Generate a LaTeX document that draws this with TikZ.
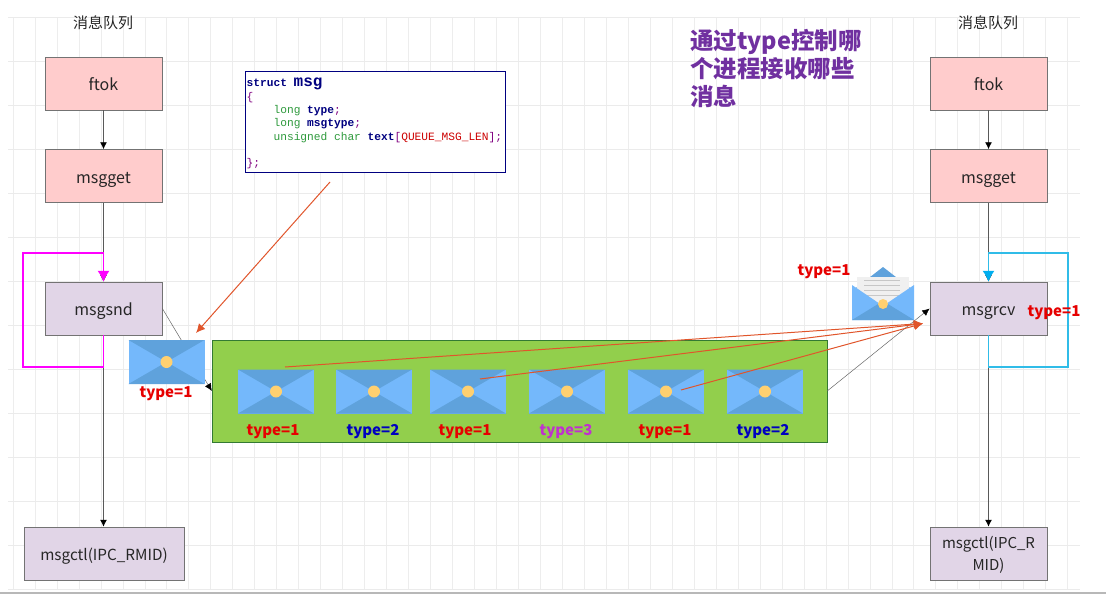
\documentclass[tikz,border=0pt]{standalone}
\usepackage{fontspec}
\setmainfont{Noto Sans CJK SC}
\setmonofont{Liberation Mono}
\usetikzlibrary{arrows.meta}

\definecolor{pinkbox}{HTML}{FFCCCC}
\definecolor{lilacbox}{HTML}{E1D5E7}
\definecolor{mailblue}{HTML}{74B8FB}
\definecolor{maildark}{HTML}{5FA2DC}
\definecolor{mailseal}{HTML}{FFD070}
\definecolor{greenbox}{HTML}{92CF4C}
\definecolor{readarrow}{HTML}{E0552B}
\definecolor{notepurple}{HTML}{7030A0}
\definecolor{codegreen}{HTML}{2E9A3C}
\definecolor{codenavy}{HTML}{000080}
\definecolor{loopmagenta}{HTML}{FF00FF}
\definecolor{loopcyan}{HTML}{30BCE8}
\definecolor{tipcyan}{HTML}{00AEEF}
\definecolor{typered}{HTML}{E60000}
\definecolor{typeblue}{HTML}{0000C0}
\definecolor{typepurple}{HTML}{C030D0}

\tikzset{
  funcbox/.style={rectangle, draw=black!55, line width=0.7pt, minimum width=117pt, minimum height=53pt, inner sep=0pt, align=center, font=\fontsize{16}{20}\selectfont, text=black!85},
  oneline/.style={text height=14.5pt, text depth=0.5pt},
  flow/.style={draw=black!65, line width=0.7pt, -{Latex[length=2.4mm, width=2.4mm, black]}},
  thin flow/.style={draw=black!60, line width=0.5pt, -{Latex[length=2.6mm, width=2.4mm, black]}},
  read/.style={draw=readarrow, line width=1pt, -{Latex[length=3.2mm, width=3mm]}},
  mail/.style={rectangle, fill=mailblue, minimum width=76pt, minimum height=44pt, inner sep=0pt,
    path picture={
      \fill[maildark] (path picture bounding box.north west) -- (path picture bounding box.center) -- (path picture bounding box.north east) -- cycle;
      \fill[maildark] (path picture bounding box.south west) -- (path picture bounding box.center) -- (path picture bounding box.south east) -- cycle;
      \fill[mailseal] (path picture bounding box.center) circle (6pt);
    }},
  typelabel/.style={font=\fontsize{15}{18}\selectfont\bfseries, inner sep=0pt}
}

\begin{document}
\begin{tikzpicture}[x=1pt, y=-1pt]
\useasboundingbox (0,0) rectangle (1106,594);

%Grid
\foreach \gx in {0,...,48} {
  \draw[black!7, line width=0.6pt] ({13+21.97*\gx},17) -- ({13+21.97*\gx},590);
}
\foreach \gy in {0,...,13} {
  \draw[black!8, line width=0.8pt] (8,{17+44*\gy}) -- (1080,{17+44*\gy});
}
\fill[black!28] (0,592) rectangle (1106,594);

%Titles
\node (titleL) at (103,22.5) [font=\fontsize{15}{18}\selectfont, text=black!85] {消息队列};
\node (titleR) at (988,22.5) [font=\fontsize{15}{18}\selectfont, text=black!85] {消息队列};
\node (note) at (690,68) [anchor=west, align=left, inner sep=0pt, text=notepurple, font=\fontsize{23.5}{28}\selectfont\bfseries] {通过type控制哪\\个进程接收哪些\\消息};

%Left column
\node (ftokL) at (103.5,83.5) [funcbox, oneline, fill=pinkbox] {ftok};
\node (getL) at (103.5,176) [funcbox, oneline, fill=pinkbox] {msgget};
\node (sndL) at (103.5,308.5) [funcbox, oneline, fill=lilacbox] {msgsnd};
\node (ctlL) at (104,553.5) [funcbox, oneline, fill=lilacbox, minimum width=160pt, font=\fontsize{15.3}{18}\selectfont] {msgctl(IPC\_RMID)};

%Right column
\node (ftokR) at (988.5,83.5) [funcbox, oneline, fill=pinkbox] {ftok};
\node (getR) at (988.5,176) [funcbox, oneline, fill=pinkbox] {msgget};
\node (rcvR) at (988.5,308.5) [funcbox, oneline, fill=lilacbox] {msgrcv};
\node (ctlR) at (988.5,553.5) [funcbox, text height=37pt, fill=lilacbox, font=\fontsize{15}{22}\selectfont] {msgctl(IPC\_R\\MID)};

\draw[flow] (ftokL) to (getL);
\draw[flow] (getL) to (sndL);
\draw[flow] (sndL) to (ctlL.north -| sndL);
\draw[flow] (ftokR) to (getR);
\draw[flow] (getR) to (rcvR);
\draw[flow] (rcvR) to (ctlR);

%Loops
\coordinate (sndA) at (103.5,367);
\coordinate (sndB) at (23,367);
\coordinate (sndC) at (23,253);
\coordinate (sndD) at (103.5,253);
\draw[loopmagenta, line width=1.1pt, -{Latex[length=3.8mm, width=4.2mm]}] (sndL.south) -- (sndA) -- (sndB) -- (sndC) -- (sndD) -- (sndL.north);

\coordinate (rcvA) at (988.5,367);
\coordinate (rcvB) at (1068,367);
\coordinate (rcvC) at (1068,253);
\coordinate (rcvD) at (988.5,253);
\draw[loopcyan, line width=1.1pt, -{Latex[length=3.8mm, width=4.2mm, tipcyan]}] (rcvR.south) -- (rcvA) -- (rcvB) -- (rcvC) -- (rcvD) -- (rcvR.north);

%Queue
\node (queue) at (519.5,391) [rectangle, draw=green!35!black!80, fill=greenbox, minimum width=615pt, minimum height=102pt, inner sep=0pt] {};
\draw[thin flow] (sndL.east) to (queue.west);
\draw[thin flow] (queue.east) to (rcvR.west);

\node (sent) at (166.5,362) [mail] {};
\node (m1) at (276,391.5) [mail] {};
\node (m2) at (374,391.5) [mail] {};
\node (m3) at (468,391.5) [mail] {};
\node (m4) at (567,391.5) [mail] {};
\node (m5) at (666,391.5) [mail] {};
\node (m6) at (765,391.5) [mail] {};

\node (tsent) at (166,394) [typelabel, text=typered] {type=1};
\node (t1) at (273,431.5) [typelabel, text=typered] {type=1};
\node (t2) at (373,431.5) [typelabel, text=typeblue] {type=2};
\node (t3) at (465,431.5) [typelabel, text=typered] {type=1};
\node (t4) at (566,431.5) [typelabel, text=typepurple] {type=3};
\node (t5) at (665,431.5) [typelabel, text=typered] {type=1};
\node (t6) at (763,431.5) [typelabel, text=typeblue] {type=2};

%Open mail
\fill[maildark] (852,291) -- (883,267) -- (914,291) -- cycle;
\fill[black!6] (857,277) -- (909,277) -- (909,305) -- (857,305) -- cycle;
\foreach \ly in {280,285,290,295} {
  \draw[black!22, line width=0.6pt] (864,\ly) -- (900,\ly);
}
\fill[mailblue] (852,285) -- (883,306) -- (914,285) -- (914,320) -- (852,320) -- cycle;
\fill[maildark] (852,320) -- (883,301) -- (914,320) -- cycle;
\fill[mailseal] (883,304) circle (5pt);
\node (topen) at (824,272) [typelabel, text=typered] {type=1};
\node (trcv) at (1054,313) [typelabel, text=typered] {type=1};

%Read arrows
\coordinate (read1) at (285,367);
\coordinate (read2) at (480,379);
\coordinate (read3) at (681,390);
\coordinate (readEnd) at (923,323.5);
\draw[read] (read1) to (readEnd);
\draw[read] (read2) to (readEnd);
\draw[read] (read3) to (readEnd);

%Struct
\node (code) at (375,121.5) [rectangle, draw=codenavy, fill=white, line width=0.8pt, minimum width=260pt, minimum height=101pt, inner sep=0pt] {};
\node (codetxt) at (246.5,78) [anchor=north west, inner sep=0pt, align=left, font=\ttfamily\fontsize{11.2}{13.3}\selectfont] {%
\textcolor{codenavy}{\textbf{struct} {\fontsize{16}{15}\selectfont\textbf{msg}}}\\
\textcolor{violet}{\{}\\
\hspace*{26.9pt}\textcolor{codegreen}{long} \textcolor{codenavy}{\textbf{type}}\textcolor{violet}{;}\\
\hspace*{26.9pt}\textcolor{codegreen}{long} \textcolor{codenavy}{\textbf{msgtype}}\textcolor{violet}{;}\\
\hspace*{26.9pt}\textcolor{codegreen}{unsigned char} \textcolor{codenavy}{\textbf{text}}\textcolor{violet}{[}\textcolor{red!80!black}{QUEUE\_MSG\_LEN}\textcolor{violet}{];}\\
\mbox{}\\
\textcolor{violet}{\};}};
\coordinate (codeOut) at (330,182);
\coordinate (sentIn) at (196,333);
\draw[read] (codeOut) to (sentIn);

\end{tikzpicture}
\end{document}
